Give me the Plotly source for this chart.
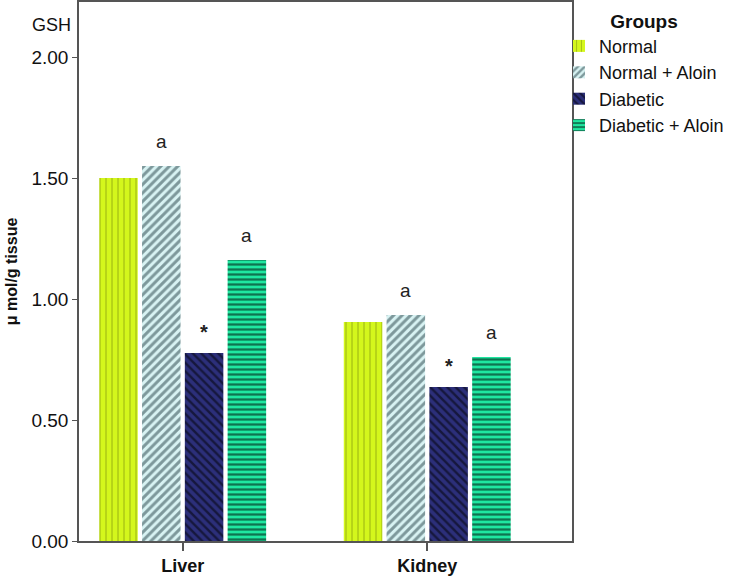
import plotly.graph_objects as go

categories = ["Liver", "Kidney"]
groups = ["Normal", "Normal + Aloin", "Diabetic", "Diabetic + Aloin"]
normal = [1.50, 0.905]
normal_aloin = [1.55, 0.934]
diabetic = [0.777, 0.636]
diabetic_aloin = [1.161, 0.76]
marks = [["", "a", "*", "a"], ["", "a", "*", "a"]]  # per category, per group

series = [normal, normal_aloin, diabetic, diabetic_aloin]
bg = ["#d4f71c", "#d8f3f3", "#2c2f7a", "#1fe6a0"]
fg = ["rgba(40,45,0,0.75)", "#223e44", "#000000", "#000000"]
shapes = ["|", "/", "\\", "-"]
sizes = [6, 6, 6, 5]
solid = [0.15, 0.5, 0.4, 0.45]

fig = go.Figure()
for i, g in enumerate(groups):
    fig.add_trace(go.Bar(
        name=g, x=categories, y=series[i],
        marker=dict(color=bg[i], line=dict(width=0),
                    pattern=dict(shape=shapes[i], fgcolor=fg[i], bgcolor=bg[i],
                                 size=sizes[i], solidity=solid[i], fillmode="overlay")),
    ))

gap = 0.3
slot = (1 - gap) / 4
for ci, c in enumerate(categories):
    for gi in range(4):
        t = marks[ci][gi]
        if not t:
            continue
        xo = ci - (1 - gap) / 2 + (gi + 0.5) * slot
        star = t == "*"
        fig.add_annotation(x=xo, y=series[gi][ci], text=f"<b>{t}</b>" if star else t,
                           showarrow=False, yanchor="bottom",
                           yshift=8 if star else 12,
                           font=dict(size=20 if star else 19, color="#222"))

fig.add_annotation(xref="paper", yref="paper", x=-0.012, y=0.958, xanchor="right",
                   yanchor="middle", text="GSH", showarrow=False,
                   font=dict(size=18, color="#111"))

plot_w = 738 - 79 - 166
plot_h = 576 - 2 - 35
fig.update_layout(
    width=738, height=576,
    margin=dict(l=79, r=166, t=2, b=35, autoexpand=False),
    paper_bgcolor="white", plot_bgcolor="white",
    barmode="group", bargap=gap, bargroupgap=0.1,
    font=dict(family="Liberation Sans, Arial", color="#111"),
    showlegend=True,
    legend=dict(x=(572 - 79 - 13) / plot_w, y=1 - 1 / plot_h, xanchor="left", yanchor="top",
                title=dict(text="<b>Groups</b>", side="top center", font=dict(size=19)),
                font=dict(size=18), tracegroupgap=0, itemwidth=30,
                bgcolor="rgba(0,0,0,0)"),
    xaxis=dict(type="category", range=[-0.424, 1.592], showline=True, mirror=True,
               linecolor="#555", linewidth=1.5, ticks="outside", ticklen=8,
               tickcolor="#555", tickwidth=1.5,
               tickfont=dict(size=18), tickprefix="<b>", ticksuffix="</b>"),
    yaxis=dict(range=[0, 2.2273], showline=True, mirror=True, linecolor="#555",
               linewidth=1.5, ticks="outside", ticklen=5, tickcolor="#555",
               tickvals=[0, 0.5, 1.0, 1.5, 2.0], ticktext=["0.00", "0.50", "1.00", "1.50", "2.00"],
               tickfont=dict(size=19), showgrid=False, zeroline=False,
               title=dict(text="<b>μ mol/g tissue</b>", font=dict(size=16), standoff=10)),
)

fig.write_html("out.html", config={"displayModeBar": False},
               post_script="document.body.style.margin='0';document.body.style.padding='0';")
